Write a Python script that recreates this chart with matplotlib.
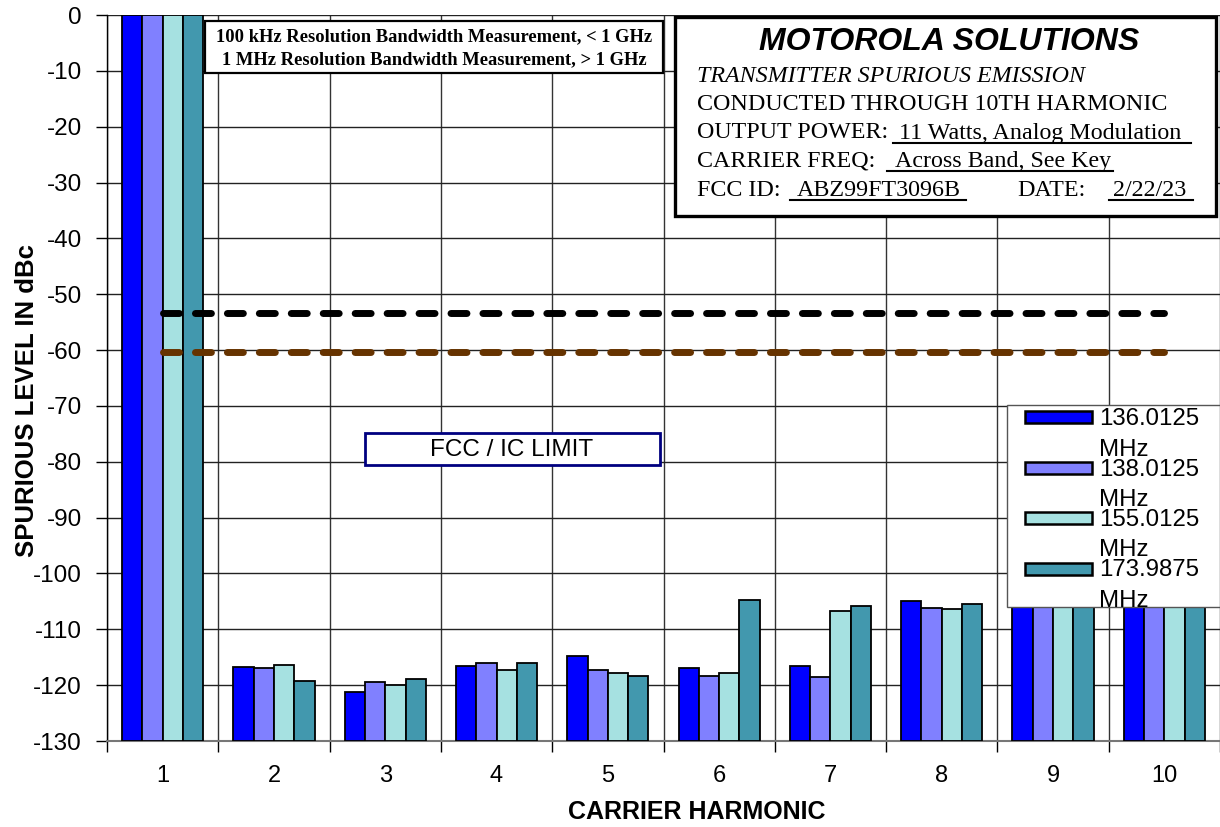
import matplotlib
matplotlib.use('Agg')
import matplotlib.pyplot as plt
import numpy as np
from matplotlib.patches import Rectangle

# spurious levels in dBc per carrier harmonic (1..10), one list per carrier frequency
harmonics = [1, 2, 3, 4, 5, 6, 7, 8, 9, 10]
f_136 = [0, -116.8, -121.2, -116.6, -114.8, -116.9, -116.6, -105.0, -104.5, -104.2]
f_138 = [0, -117.0, -119.5, -116.0, -117.2, -118.4, -118.5, -106.2, -105.0, -104.6]
f_155 = [0, -116.4, -119.9, -117.3, -117.9, -117.8, -106.7, -106.4, -104.8, -104.9]
f_174 = [0, -119.3, -118.9, -116.1, -118.4, -104.8, -105.8, -105.5, -104.2, -104.0]
series_labels = ['136.0125\nMHz', '138.0125\nMHz', '155.0125\nMHz', '173.9875\nMHz']
colors = ['#0000ff', '#8080ff', '#a6e1e1', '#4298ae']
limit_black = -53.4
limit_brown = -60.3
y_ticks = list(range(0, -131, -10))

W, H = 1220, 827


def fx(x):
    return x / W


def fy(y):
    return 1 - y / H


plt.rcParams['font.family'] = ['Liberation Sans', 'DejaVu Sans']
fig = plt.figure(figsize=(12.2, 8.27), dpi=100)
ax = fig.add_axes([fx(107), fy(741), fx(1220) - fx(107), fy(15) - fy(741)])

x = np.array(harmonics)
bw = 0.1825
for i, (vals, c) in enumerate(zip([f_136, f_138, f_155, f_174], colors)):
    v = np.array(vals)
    ax.bar(x + (i - 1.5) * bw, v + 130, bottom=-130, width=bw, color=c,
           edgecolor='black', linewidth=1.3, zorder=3)

ax.plot([1, 10], [limit_black, limit_black], color='black', lw=5,
        dashes=(2.3, 2.3), dash_capstyle='round', zorder=4)
ax.plot([1, 10], [limit_brown, limit_brown], color='#663300', lw=5,
        dashes=(2.3, 2.3), dash_capstyle='round', zorder=4)

ax.set_xlim(0.5, 10.5)
ax.set_ylim(-130, 0)
ax.set_yticks(y_ticks)
ax.set_yticklabels([str(t) for t in y_ticks], fontsize=17.5)
ax.set_xticks(harmonics)
ax.set_xticklabels([str(h) for h in harmonics], fontsize=17)
ax.set_xticks(np.arange(0.5, 10.6, 1), minor=True)
ax.tick_params(axis='x', which='major', length=0, pad=17)
ax.tick_params(axis='x', which='minor', length=8, width=1, color='black')
ax.tick_params(axis='y', length=8, width=1, pad=10)
ax.grid(True, which='major', axis='y', color='#222222', lw=1, zorder=1)
ax.grid(True, which='minor', axis='x', color='#333333', lw=1, zorder=1)
for s in ['top', 'right']:
    ax.spines[s].set_visible(False)
ax.spines['left'].set_linewidth(1)
ax.spines['bottom'].set_color('#777777')
ax.spines['bottom'].set_linewidth(1.5)

fig.text(fx(27), fy(401), 'SPURIOUS LEVEL IN dBc', rotation=90, fontsize=18.5,
         fontweight='bold', ha='center', va='center')
fig.text(fx(697), fy(812), 'CARRIER HARMONIC', fontsize=18,
         fontweight='bold', ha='center', va='center')

# top-left note box
fig.patches.append(Rectangle((fx(205), fy(73)), fx(663) - fx(205), fy(21) - fy(73),
                             transform=fig.transFigure, facecolor='white',
                             edgecolor='black', lw=1.6, zorder=5))
fig.text(fx(434), fy(37), '100 kHz Resolution Bandwidth Measurement, < 1 GHz',
         family='Liberation Serif', fontweight='bold', fontsize=13.3,
         ha='center', va='center', zorder=6)
fig.text(fx(434), fy(60), '1 MHz Resolution Bandwidth Measurement, > 1 GHz',
         family='Liberation Serif', fontweight='bold', fontsize=13.3,
         ha='center', va='center', zorder=6)

# title block
fig.patches.append(Rectangle((fx(675), fy(216)), fx(1216) - fx(675), fy(17) - fy(216),
                             transform=fig.transFigure, facecolor='white',
                             edgecolor='black', lw=2.4, zorder=5))
fig.text(fx(949), fy(42), 'MOTOROLA SOLUTIONS', fontsize=23, fontweight='bold',
         fontstyle='italic', ha='center', va='center', zorder=6)
serif = dict(family='Liberation Serif', fontsize=17.3, va='center', zorder=6)
fig.text(fx(697), fy(77), 'TRANSMITTER SPURIOUS EMISSION', fontstyle='italic', **serif)
fig.text(fx(697), fy(104), 'CONDUCTED THROUGH 10TH HARMONIC', **serif)
fig.text(fx(697), fy(133), 'OUTPUT POWER:', **serif)
fig.text(fx(697), fy(161), 'CARRIER FREQ:', **serif)
fig.text(fx(697), fy(190), 'FCC ID:', **serif)
fig.text(fx(1017), fy(190), 'DATE:', **serif)

underlined = [
    (893, 1191, 899, 133, 143, '11 Watts, Analog Modulation'),
    (887, 1113, 895, 161, 171, 'Across Band, See Key'),
    (790, 966, 797, 190, 200, 'ABZ99FT3096B'),
    (1109, 1193, 1113, 190, 200, '2/22/23'),
]
for x0, x1, tx, ty, uy, txt in underlined:
    fig.text(fx(tx), fy(ty), txt, ha='left', **serif)
    fig.add_artist(plt.Line2D([fx(x0), fx(x1)], [fy(uy), fy(uy)], color='black',
                              lw=1.5, transform=fig.transFigure, zorder=6))

# FCC / IC LIMIT label
fig.patches.append(Rectangle((fx(365), fy(465)), fx(660) - fx(365), fy(433) - fy(465),
                             transform=fig.transFigure, facecolor='white',
                             edgecolor='#000080', lw=2, zorder=5))
fig.text(fx(512), fy(450), 'FCC / IC LIMIT', fontsize=17.5, ha='center', va='center',
         zorder=6)

# legend
fig.patches.append(Rectangle((fx(1007), fy(607)), fx(1220) - fx(1007), fy(405) - fy(607),
                             transform=fig.transFigure, facecolor='white',
                             edgecolor='#555555', lw=1, zorder=5))
for i, (lab, c) in enumerate(zip(series_labels, colors)):
    top = 411 + i * 50.5
    fig.patches.append(Rectangle((fx(1025), fy(top + 12)), fx(1092) - fx(1025),
                                 fy(top) - fy(top + 12), transform=fig.transFigure,
                                 facecolor=c, edgecolor='black', lw=1.8, zorder=6))
    fig.text(fx(1099), fy(top - 3), lab, fontsize=17.3, ha='left', va='top',
             linespacing=1.5, zorder=7)

fig.savefig('out.png', dpi=100)
